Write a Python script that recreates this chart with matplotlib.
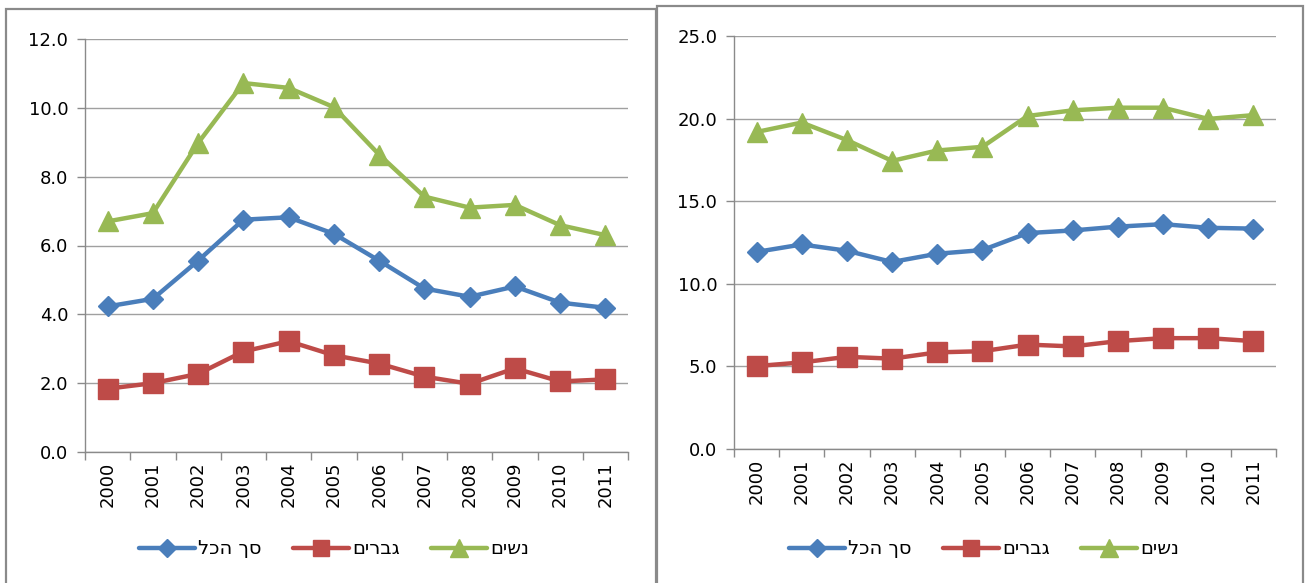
import matplotlib
matplotlib.use("Agg")
import matplotlib.pyplot as plt
from matplotlib.patches import Rectangle
from matplotlib.lines import Line2D

years = ["2000", "2001", "2002", "2003", "2004", "2005", "2006", "2007", "2008", "2009", "2010", "2011"]
labels = ["סך הכל", "גברים", "נשים"]

left_total = [4.23, 4.45, 5.56, 6.75, 6.82, 6.34, 5.56, 4.75, 4.51, 4.81, 4.34, 4.19]
left_men = [1.84, 2.00, 2.27, 2.92, 3.22, 2.81, 2.57, 2.19, 1.98, 2.43, 2.05, 2.11]
left_women = [6.70, 6.94, 8.98, 10.72, 10.58, 10.02, 8.64, 7.42, 7.10, 7.18, 6.59, 6.30]

right_total = [11.93, 12.38, 12.00, 11.32, 11.82, 12.04, 13.07, 13.23, 13.46, 13.61, 13.39, 13.34]
right_men = [5.02, 5.24, 5.58, 5.47, 5.85, 5.92, 6.32, 6.21, 6.53, 6.71, 6.71, 6.53]
right_women = [19.19, 19.76, 18.70, 17.44, 18.07, 18.29, 20.16, 20.50, 20.66, 20.66, 19.98, 20.21]

left_yticks = [0, 2, 4, 6, 8, 10, 12]
right_yticks = [0, 5, 10, 15, 20, 25]

colors = ["#4A7EBB", "#BE4B48", "#98B954"]
markers = ["D", "s", "^"]
msizes = [10.5, 14, 15]

W, H = 1306, 583
fig = plt.figure(figsize=(W / 100, H / 100), dpi=100)
fig.patch.set_facecolor("white")

def fx(px):
    return px / W

def fy(py):
    return 1 - py / H

# panel frames
frame_col = "#8a8a8a"
fig.patches.append(Rectangle((fx(5.5), fy(600)), fx(656) - fx(5.5), fy(9) - fy(600),
                             transform=fig.transFigure, fill=False, ec=frame_col, lw=1.6))
fig.patches.append(Rectangle((fx(657), fy(600)), fx(1303) - fx(657), fy(6) - fy(600),
                             transform=fig.transFigure, fill=False, ec=frame_col, lw=1.6))

def make_panel(rect, series, yticks, legend_center_px):
    ax = fig.add_axes(rect)
    x = list(range(len(years)))
    for vals, c, m, ms in zip(series, colors, markers, msizes):
        ax.plot(x, vals, color=c, lw=3.2, marker=m, markersize=ms,
                markerfacecolor=c, markeredgecolor=c, solid_joinstyle="round",
                solid_capstyle="round", zorder=3)
    ax.set_xlim(-0.5, len(years) - 0.5)
    ax.set_ylim(yticks[0], yticks[-1])
    ax.set_yticks(yticks)
    ax.set_yticklabels([f"{v:.1f}" for v in yticks])
    ax.set_xticks(x)
    ax.set_xticklabels(years, rotation=90)
    ax.set_xticks([i - 0.5 for i in range(len(years) + 1)], minor=True)
    ax.tick_params(axis="x", which="major", length=0, pad=7, labelsize=13)
    ax.tick_params(axis="x", which="minor", length=6, color="#8a8a8a", width=1, direction="out")
    ax.tick_params(axis="y", which="major", length=6, color="#8a8a8a", width=1, pad=6, labelsize=13)
    ax.grid(axis="y", color="#a0a0a0", lw=1)
    ax.set_axisbelow(True)
    for s in ["top", "right"]:
        ax.spines[s].set_visible(False)
    for s in ["left", "bottom"]:
        ax.spines[s].set_color("#8a8a8a")
        ax.spines[s].set_linewidth(1)
    handles = [Line2D([], [], color=c, lw=3.2, marker=m, markersize=ms * 0.85,
                      markerfacecolor=c, markeredgecolor=c, solid_capstyle="round")
               for c, m, ms in zip(colors, markers, msizes)]
    shown = [lab[::-1] for lab in labels]
    fig.legend(handles, shown, loc="center", ncol=3, frameon=False,
               bbox_to_anchor=(fx(legend_center_px), fy(549)),
               prop={"family": "DejaVu Sans", "size": 14},
               handlelength=2.9, handletextpad=0.15, columnspacing=1.6)
    return ax

make_panel([fx(85), fy(452), fx(628) - fx(85), fy(39) - fy(452)],
           [left_total, left_men, left_women], left_yticks, 334)
make_panel([fx(734), fy(449), fx(1276) - fx(734), fy(36) - fy(449)],
           [right_total, right_men, right_women], right_yticks, 984)

fig.savefig("out.png", dpi=100)
